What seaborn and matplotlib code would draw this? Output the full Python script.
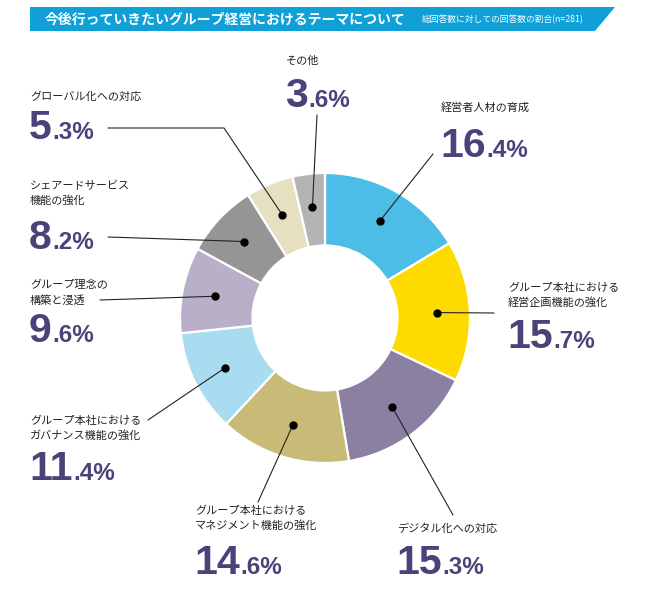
import matplotlib
matplotlib.use("Agg")
import matplotlib.pyplot as plt
import matplotlib.patches as mpatches
import seaborn as sns
import numpy as np

sns.set_theme(style="white")
plt.rcParams["font.family"] = ["Noto Sans CJK JP", "DejaVu Sans"]

themes = [
    "経営者人材の育成",
    "グループ本社における\n経営企画機能の強化",
    "デジタル化への対応",
    "グループ本社における\nマネジメント機能の強化",
    "グループ本社における\nガバナンス機能の強化",
    "グループ理念の\n構築と浸透",
    "シェアードサービス\n機能の強化",
    "グローバル化への対応",
    "その他",
]
shares = [16.4, 15.7, 15.3, 14.6, 11.4, 9.6, 8.2, 5.3, 3.6]
colors = ["#4bbde6", "#fedb00", "#8b80a2", "#c8bb78", "#a9dcf0",
          "#b8afc9", "#959595", "#e6dfc0", "#b4b4b4"]

title = "今後行っていきたいグループ経営におけるテーマについて"
subtitle = "総回答数に対しての回答数の割合(n=281)"

W, H = 650, 594
cx, cy, R = 325, H - 318, 145
NUM_COLOR = "#4b427a"
NUM_FONT = ["Liberation Sans Narrow", "Liberation Sans", "DejaVu Sans"]

fig = plt.figure(figsize=(W / 100, H / 100), dpi=100)
ax = fig.add_axes([0, 0, 1, 1])

wedges, _ = ax.pie(shares, colors=colors, startangle=90, counterclock=False,
                   center=(cx, cy), radius=R,
                   wedgeprops=dict(width=R * 0.5, edgecolor="white", linewidth=1.6))
ax.set_xlim(0, W)
ax.set_ylim(0, H)
ax.set_aspect("equal")
ax.axis("off")

# title banner
banner = mpatches.Polygon([(30, H - 7), (615, H - 7), (595, H - 31), (30, H - 31)],
                          closed=True, color="#0ea0d6", lw=0)
ax.add_patch(banner)
ax.text(45, H - 19.5, title, color="white", fontsize=10, fontweight="bold",
        va="center", ha="left")
ax.text(422, H - 20, subtitle, color="white", fontsize=6.3, va="center", ha="left")

# label layout: (text x, label top y, number baseline y, leader path end points)
layout = [
    (441, 102, 157, [(433, 154)]),
    (508, 283, 348, [(494, 313)]),
    (397, 523, 574, [(453, 515)]),
    (195, 506, 574, [(258, 502)]),
    (30, 416, 480, [(148, 420)]),
    (30, 280, 342, [(100, 300)]),
    (30, 181, 249, [(108, 237)]),
    (30, 91, 139, [(224, 128), (108, 128)]),
    (286, 56, 107, [(317, 115)]),
]

renderer = fig.canvas.get_renderer()
total = sum(shares)
cum = 0.0
for name, val, (tx, ty, nb, path) in zip(themes, shares, layout):
    mid = np.deg2rad(90 - 360 * (cum + val / 2) / total)
    cum += val
    dx, dy = cx + 0.77 * R * np.cos(mid), cy + 0.77 * R * np.sin(mid)
    xs = [dx] + [p[0] for p in path]
    ys = [dy] + [H - p[1] for p in path]
    ax.plot(xs, ys, color="#222222", lw=0.8, zorder=3)
    ax.plot(dx, dy, "o", color="black", ms=5, zorder=4)

    ax.text(tx, H - ty, name, fontsize=8, color="#222222", va="top", ha="left",
            linespacing=1.45)
    whole, dec = f"{val:.1f}".split(".")
    t = ax.text(tx - 1, H - nb, whole, fontsize=29.5, fontweight="bold",
                color=NUM_COLOR, family=NUM_FONT, va="baseline", ha="left")
    bb = t.get_window_extent(renderer)
    x_end = ax.transData.inverted().transform((bb.x1, bb.y0))[0]
    ax.text(x_end + 0.5, H - nb, f".{dec}%", fontsize=17.5, fontweight="bold",
            color=NUM_COLOR, family=NUM_FONT, va="baseline", ha="left")

fig.savefig("out.png", dpi=100, facecolor="white")
